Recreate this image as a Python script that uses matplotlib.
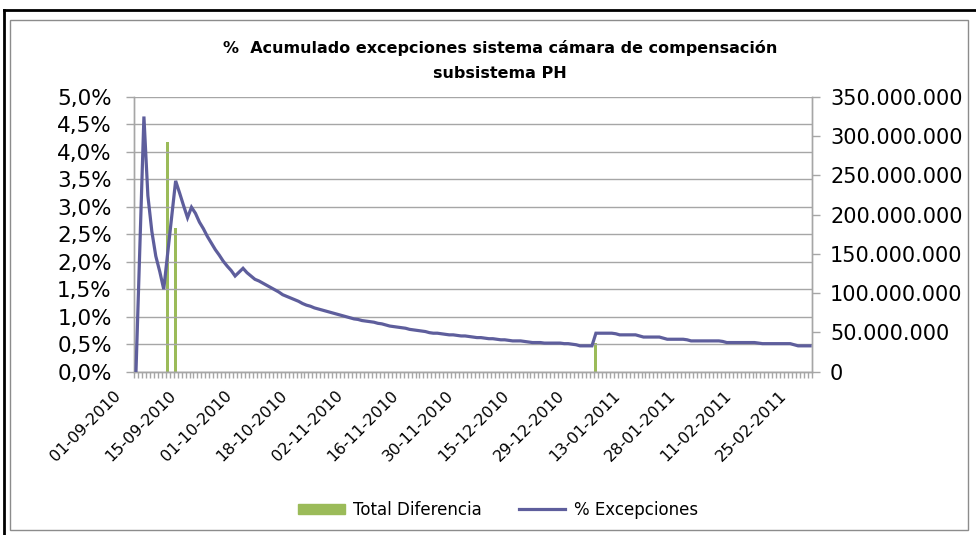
import matplotlib
matplotlib.use("Agg")
import matplotlib.pyplot as plt
from matplotlib.patches import Rectangle
from matplotlib.lines import Line2D
from matplotlib.ticker import FuncFormatter, MultipleLocator, FixedLocator
from matplotlib.transforms import ScaledTranslation, blended_transform_factory
import numpy as np

# --- data -------------------------------------------------------------
tick_labels = ["01-09-2010", "15-09-2010", "01-10-2010", "18-10-2010",
               "02-11-2010", "16-11-2010", "30-11-2010", "15-12-2010",
               "29-12-2010", "13-01-2011", "28-01-2011", "11-02-2011",
               "25-02-2011"]
label_step = 14  # one date label every 14 categories

pct_excepciones = [
    0.00, 2.30, 4.64, 3.20, 2.55, 2.10, 1.82, 1.50, 2.16, 2.81,
    3.47, 3.25, 3.02, 2.80, 2.99, 2.88, 2.72, 2.60, 2.46, 2.34,
    2.22, 2.12, 2.01, 1.92, 1.84, 1.74, 1.81, 1.88, 1.80, 1.74,
    1.68, 1.65, 1.61, 1.57, 1.53, 1.49, 1.45, 1.40, 1.37, 1.34,
    1.31, 1.28, 1.24, 1.21, 1.19, 1.16, 1.14, 1.12, 1.10, 1.08,
    1.06, 1.04, 1.02, 1.00, 0.98, 0.96, 0.95, 0.93, 0.92, 0.91,
    0.90, 0.88, 0.87, 0.85, 0.83, 0.82, 0.81, 0.80, 0.79, 0.77,
    0.76, 0.75, 0.74, 0.73, 0.71, 0.70, 0.70, 0.69, 0.68, 0.67,
    0.67, 0.66, 0.65, 0.65, 0.64, 0.63, 0.62, 0.62, 0.61, 0.60,
    0.60, 0.59, 0.58, 0.58, 0.57, 0.56, 0.56, 0.56, 0.55, 0.54,
    0.53, 0.53, 0.53, 0.52, 0.52, 0.52, 0.52, 0.52, 0.51, 0.51,
    0.50, 0.49, 0.47, 0.47, 0.47, 0.47, 0.70, 0.70, 0.70, 0.70,
    0.70, 0.69, 0.67, 0.67, 0.67, 0.67, 0.67, 0.65, 0.63, 0.63,
    0.63, 0.63, 0.63, 0.61, 0.59, 0.59, 0.59, 0.59, 0.59, 0.58,
    0.56, 0.56, 0.56, 0.56, 0.56, 0.56, 0.56, 0.56, 0.55, 0.53,
    0.53, 0.53, 0.53, 0.53, 0.53, 0.53, 0.53, 0.52, 0.51, 0.51,
    0.51, 0.51, 0.51, 0.51, 0.51, 0.51, 0.49, 0.47, 0.47, 0.47,
    0.47,
]

# Total Diferencia: non-zero days (category index -> amount)
diferencia_cat = [8, 10, 116]
diferencia_val = [292_000_000, 183_000_000, 36_000_000]

# --- styling ----------------------------------------------------------
LINE_COLOR = "#5E5E9C"
BAR_COLOR = "#9BBB59"
GRID_COLOR = "#A6A6A6"
plt.rcParams["font.family"] = ["DejaVu Sans"]

W, H = 976, 535
fig = plt.figure(figsize=(W / 100, H / 100), dpi=100)
px = 72 / fig.dpi  # points per pixel

n = len(pct_excepciones)
x = np.arange(n)

left, right, top, bottom = 134, 812, 96.7, 371.7
ax = fig.add_axes([left / W, 1 - bottom / H, (right - left) / W, (bottom - top) / H])
ax2 = ax.twinx()

# bars on the secondary axis, line on the primary one drawn on top
ax.set_zorder(ax2.get_zorder() + 1)
ax.patch.set_visible(False)

ax2.bar(diferencia_cat, diferencia_val, width=0.75, color=BAR_COLOR, zorder=2)
ax.plot(x, pct_excepciones, color=LINE_COLOR, lw=2.3, solid_joinstyle="miter", zorder=3)

ax.set_xlim(-0.5, n - 0.5)
ax.set_ylim(0, 5.0)
ax2.set_ylim(0, 350_000_000)

# y axes
ax.yaxis.set_major_locator(MultipleLocator(0.5))
ax.yaxis.set_major_formatter(FuncFormatter(lambda v, p: f"{v:.1f}%".replace(".", ",")))
ax2.yaxis.set_major_locator(MultipleLocator(50_000_000))
ax2.yaxis.set_major_formatter(FuncFormatter(lambda v, p: f"{int(round(v)):,}".replace(",", ".")))
ax.grid(axis="y", color=GRID_COLOR, lw=1.0, zorder=0)
ax.set_axisbelow(True)

for a in (ax, ax2):
    for s in a.spines.values():
        s.set_color(GRID_COLOR)
        s.set_linewidth(1.0)
    a.spines["top"].set_visible(False)
ax.tick_params(axis="y", direction="out", length=6, width=1, color=GRID_COLOR,
               labelsize=15.5, pad=10, labelcolor="black")
ax2.tick_params(axis="y", direction="out", length=6, width=1, color=GRID_COLOR,
                labelsize=15, pad=7, labelcolor="black")

# x axis: minor ticks between categories, date labels every label_step
ax.xaxis.set_minor_locator(FixedLocator(np.arange(-0.5, n, 1.0)))
ax.set_xticks([])
ax.tick_params(axis="x", which="minor", length=4, width=1, color=GRID_COLOR)
ax2.tick_params(axis="x", length=0)

trans = blended_transform_factory(ax.transData, ax.transAxes) + \
    ScaledTranslation(-23 * px / 72, -16 * px / 72, fig.dpi_scale_trans)
for k, lab in enumerate(tick_labels):
    ax.text(k * label_step, 0, lab, transform=trans, rotation=45,
            rotation_mode="anchor", ha="right", va="top", fontsize=11.5)

# title
cx = 500 / W
fig.text(cx, 1 - 48 / H, "%  Acumulado excepciones sistema cámara de compensación",
         ha="center", va="center", fontsize=11.5, fontweight="bold")
fig.text(cx, 1 - 74 / H, "subsistema PH",
         ha="center", va="center", fontsize=11.5, fontweight="bold")

# legend
handles = [Rectangle((0, 0), 1, 1, color=BAR_COLOR),
           Line2D([0], [0], color=LINE_COLOR, lw=2.3)]
fig.legend(handles, ["Total Diferencia", "% Excepciones"], loc="center",
           bbox_to_anchor=(498 / W, 1 - 510 / H), ncol=2, frameon=False,
           fontsize=12, handlelength=2.8, handleheight=0.6, columnspacing=2.2,
           handletextpad=0.5)

# chart-area frames
fig.add_artist(Rectangle((10 / W, 1 - 530 / H), 958 / W, 510 / H,
                         transform=fig.transFigure, fill=False,
                         edgecolor="#8C8C8C", lw=1.0))
fig.add_artist(Line2D([4 / W, 4 / W], [0, 1 - 10 / H], transform=fig.transFigure,
                      color="black", lw=2.0))
fig.add_artist(Line2D([4 / W, 1], [1 - 10 / H, 1 - 10 / H], transform=fig.transFigure,
                      color="black", lw=2.0))

fig.savefig("out.png", dpi=100)
